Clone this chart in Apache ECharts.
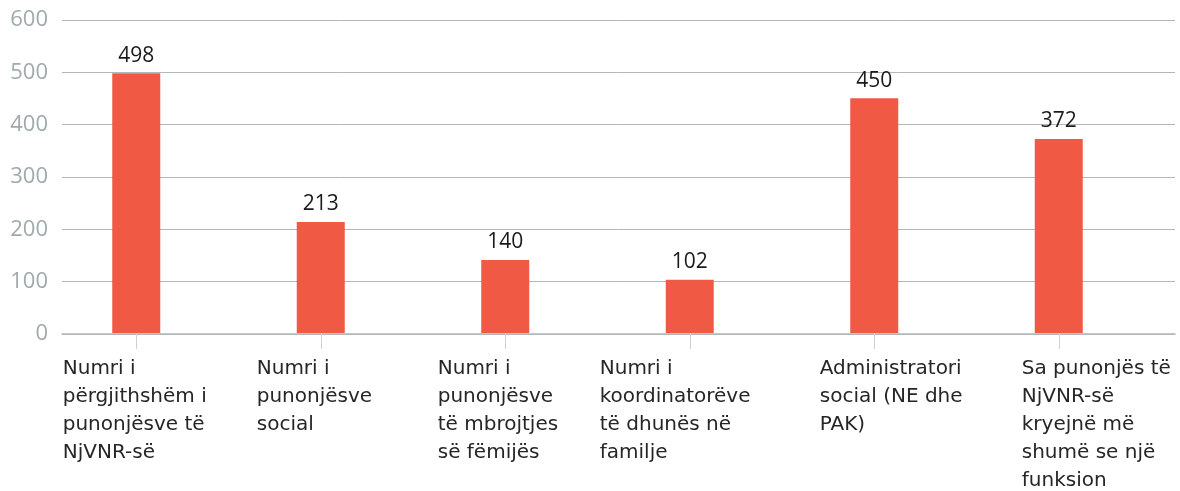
<!DOCTYPE html>
<html>
<head>
<meta charset="utf-8">
<script src="https://cdn.jsdelivr.net/npm/echarts@6/dist/echarts.min.js"></script>
<style>
html,body{margin:0;padding:0;background:#fff;}
#chart{width:1180px;height:491px;}
</style>
</head>
<body>
<div id="chart"></div>
<script>
const categories = [
  "Numri i\npërgjithshëm i\npunonjësve të\nNjVNR-së",
  "Numri i\npunonjësve\nsocial",
  "Numri i\npunonjësve\ntë mbrojtjes\nsë fëmijës",
  "Numri i\nkoordinatorëve\ntë dhunës në\nfamilje",
  "Administratori\nsocial (NE dhe\nPAK)",
  "Sa punonjës të\nNjVNR-së\nkryejnë më\nshumë se një\nfunksion"
];
const values = [498, 213, 140, 102, 450, 372];
const yMin = 0, yMax = 600, yStep = 100;

// label layout (styling only): distance from tick to left edge of each label block
const labelShift = [73.5, 64, 67.5, 90, 54.5, 37];

const rich = {};
labelShift.forEach((w, i) => {
  rich['s' + i] = {
    width: w, align: 'left', fontSize: 20, lineHeight: 28,
    fontFamily: 'DejaVu Sans', color: '#262626'
  };
});

const chart = echarts.init(document.getElementById('chart'), null, {renderer: 'canvas'});
chart.setOption({
  animation: false,
  grid: [
    {left: 62, right: 5, top: 20, bottom: 157},
    {left: 44, right: 29, top: 20, bottom: 157}
  ],
  xAxis: [
    {
      gridIndex: 0, type: 'value', min: 0, max: 1,
      axisLine: {show: true, onZero: false, lineStyle: {color: '#b0b8bb', width: 1.5}},
      axisTick: {show: false}, axisLabel: {show: false}, splitLine: {show: false}
    },
    {
      gridIndex: 1, type: 'category', data: categories,
      axisLine: {show: false},
      axisTick: {show: true, alignWithLabel: true, length: 16, lineStyle: {color: '#ccd3d6'}},
      axisLabel: {
        interval: 0, align: 'right', margin: 22,
        formatter: (v, i) => v.split('\n').map(l => '{s' + i + '|' + l + '}').join('\n'),
        rich: rich
      }
    }
  ],
  yAxis: [
    {
      gridIndex: 0, type: 'value', min: yMin, max: yMax, interval: yStep,
      axisLine: {show: false}, axisTick: {show: false},
      axisLabel: {margin: 14, color: '#a0a9ac', fontFamily: 'Open Sans', fontSize: 22},
      splitLine: {lineStyle: {color: '#b0b8bb', width: 1}}
    },
    {
      gridIndex: 1, type: 'value', min: yMin, max: yMax, interval: yStep, show: false,
      splitLine: {show: false}
    }
  ],
  series: [{
    type: 'bar', xAxisIndex: 1, yAxisIndex: 1, data: values, barWidth: 48,
    itemStyle: {color: '#f05a45'},
    label: {show: true, position: 'top', distance: 7, color: '#1a1a1a', fontFamily: 'Open Sans', fontSize: 21}
  }]
});
</script>
</body>
</html>
